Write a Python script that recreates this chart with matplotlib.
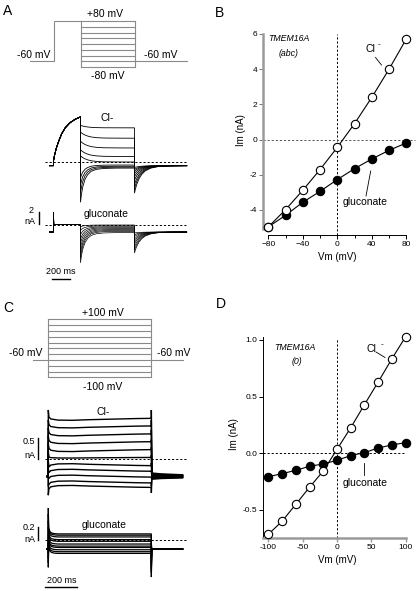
import matplotlib
matplotlib.use("Agg")
import matplotlib.pyplot as plt
import numpy as np

plt.rcParams['font.family'] = ['Liberation Sans', 'DejaVu Sans']

W, H = 416, 591
fig = plt.figure(figsize=(W / 100, H / 100), dpi=100)

# ------------------------------------------------------------------ data
# Panel B: I-V, TMEM16A (abc)
B_vm = [-80, -60, -40, -20, 0, 20, 40, 60, 80]
B_cl = [-4.96, -3.98, -2.88, -1.70, -0.44, 0.91, 2.40, 4.00, 5.72]
B_gluc = [-4.96, -4.30, -3.56, -2.94, -2.27, -1.65, -1.10, -0.61, -0.19]
B_xticks = [-80, -40, 0, 40, 80]
B_xminor = [-60, -20, 20, 60]
B_yticks = [-4, -2, 0, 2, 4, 6]

# Panel D: I-V, TMEM16A (0)
D_vm = [-100, -80, -60, -40, -20, 0, 20, 40, 60, 80, 100]
D_cl = [-0.715, -0.60, -0.45, -0.30, -0.156, 0.035, 0.226, 0.43, 0.63, 0.835, 1.03]
D_gluc = [-0.206, -0.18, -0.15, -0.115, -0.094, -0.062, -0.02, 0.006, 0.047, 0.074, 0.094]
D_xticks = [-100, -50, 0, 50, 100]
D_yticks = [-0.5, 0.0, 0.5, 1.0]
D_yticklabels = ['-0.5', '0.0', '0.5', '1.0']

# Panel A: protocol and sweeps (ms, mV, nA)
A_steps = [80, 60, 40, 20, 0, -20, -40, -60, -80]
A_hold = -60
A_pre = 80
A_pre_end, A_step_end, A_sweep_end = 300, 900, 1480
A_cl_hold = -0.6
A_cl_pre_t = [0, 10, 30, 55, 90, 130, 180, 240, 300]
A_cl_pre_i = [0.2, 1.0, 2.2, 3.3, 4.6, 5.6, 6.4, 7.0, 7.4]
A_cl_peak = [6.0, 4.9, 3.4, 2.0, 1.0, -2.6, -3.8, -5.1, -6.6]
A_cl_end = [5.6, 3.9, 2.3, 0.9, 0.0, -0.5, -0.7, -0.85, -1.0]
A_cl_tail = [-5.1, -4.4, -3.7, -3.0, -2.4, -1.9, -1.5, -1.2, -0.9]
A_gl_hold = -1.15
A_gl_pre = 0.1
A_gl_spike = 2.1
A_gl_peak = [-0.3, -0.9, -1.6, -2.3, -3.0, -3.8, -4.6, -5.4, -6.2]
A_gl_end = [0.0, -0.15, -0.3, -0.45, -0.6, -0.75, -0.9, -1.05, -1.25]
A_gl_tail = [-4.6, -4.1, -3.6, -3.1, -2.7, -2.3, -1.9, -1.6, -1.3]
# normalised relaxation time courses
relax_t = [0, 10, 25, 50, 80, 120, 180, 260, 400, 560]
relax_fast = [1.0, 0.78, 0.55, 0.33, 0.19, 0.09, 0.035, 0.01, 0.0, 0.0]
relax_slow = [1.0, 0.88, 0.72, 0.52, 0.35, 0.20, 0.09, 0.03, 0.01, 0.0]
relax_tail = [1.0, 0.85, 0.68, 0.48, 0.32, 0.19, 0.09, 0.035, 0.008, 0.0]

# Panel C: protocol and sweeps
C_steps = [100, 80, 60, 40, 20, 0, -20, -40, -60, -80, -100]
C_hold_drawn = -40
C_step_end, C_sweep_end = 640, 834
C_cl_hold = -0.45
C_cl_on = [1.26, 1.0, 0.8, 0.6, 0.4, 0.2, -0.05, -0.25, -0.45, -0.7, -0.93]
C_cl_off = [1.26, 1.0, 0.75, 0.5, 0.3, 0.1, -0.1, -0.3, -0.5, -0.7, -0.87]
C_cl_tail0 = [-0.36, -0.38, -0.39, -0.41, -0.42, -0.44, -0.46, -0.47, -0.49, -0.50, -0.52]
C_drift_t = [4, 15, 60, 150, 250, 350, 450, 550, 640]
C_drift = [0.05, 0.0, -0.03, -0.035, -0.02, -0.01, 0.0, 0.01, 0.015]
C_gl_hold = -0.14
C_gl_on = [0.49, 0.4, 0.3, 0.2, 0.1, 0.0, -0.1, -0.2, -0.28, -0.35, -0.42]
C_gl_off = [-0.05, -0.1, -0.15, -0.2, -0.25, -0.3, -0.35, -0.4, -0.45, -0.5, -0.57]
C_gl_bump_t = [2, 6, 12, 20, 35, 60]
C_gl_bump = [0.10, 0.06, 0.03, 0.015, 0.005, 0.0]

GRAY = '#8a8a8a'


# ------------------------------------------------------------------ helpers
def px_axes(x0, x1, y0, y1, xref, xppu, yref, yppu, xd=0.0, yd=0.0, off=True):
    ax = fig.add_axes([x0 / W, 1 - y1 / H, (x1 - x0) / W, (y1 - y0) / H])
    ax.set_xlim(xd + (x0 - xref) / xppu, xd + (x1 - xref) / xppu)
    ax.set_ylim(yd + (yref - y1) / yppu, yd + (yref - y0) / yppu)
    ax.patch.set_alpha(0)
    if off:
        ax.axis('off')
    return ax


def ftext(x, y, s, size=7.5, ha='center', va='center', **kw):
    fig.text(x / W, 1 - y / H, s, fontsize=size, ha=ha, va=va, **kw)


def L(ax, x, y, **kw):
    kw.setdefault('color', 'k')
    kw.setdefault('lw', 0.6)
    ax.plot(x, y, clip_on=False, solid_joinstyle='miter', **kw)


# ------------------------------------------------------------------ panel A
axAp = px_axes(0, 200, 0, 95, 53.5, 0.09, 44, 0.2875)
L(axAp, [-260, 0, 0, A_pre_end], [A_hold, A_hold, A_pre, A_pre], color=GRAY, lw=0.8)
for v in A_steps:
    L(axAp, [A_pre_end, A_step_end], [v, v], color=GRAY, lw=0.8)
L(axAp, [A_pre_end, A_pre_end], [max(A_steps), min(A_steps)], color=GRAY, lw=0.8)
L(axAp, [A_step_end, A_step_end], [max(A_steps), min(A_steps)], color=GRAY, lw=0.8)
L(axAp, [A_step_end, A_sweep_end], [A_hold, A_hold], color=GRAY, lw=0.8)

axAc = px_axes(0, 200, 95, 205, 53.5, 0.09, 162, 6.1)
for k, v in enumerate(A_steps):
    shape = relax_slow if A_cl_peak[k] > 0 else relax_fast
    t = [-45, 0] + A_cl_pre_t
    i = [A_cl_hold, A_cl_hold] + A_cl_pre_i
    t += [A_pre_end + rt for rt in relax_t] + [A_step_end]
    i += [A_cl_end[k] + (A_cl_peak[k] - A_cl_end[k]) * s for s in shape] + [A_cl_end[k]]
    t += [A_step_end + rt for rt in relax_t] + [A_sweep_end]
    i += [A_cl_hold + (A_cl_tail[k] - A_cl_hold) * s for s in relax_tail] + [A_cl_hold]
    L(axAc, t, i, lw=0.6)
L(axAc, [-95, A_sweep_end], [0, 0], lw=0.7, ls=(0, (2.2, 2.0)))

axAg = px_axes(0, 200, 200, 290, 53.5, 0.09, 225, 6.1)
for k, v in enumerate(A_steps):
    t = [-45, 0, 0, 3, A_pre_end]
    i = [A_gl_hold, A_gl_hold, A_gl_spike, A_gl_pre, A_gl_pre]
    t += [A_pre_end + rt for rt in relax_t] + [A_step_end]
    i += [A_gl_end[k] + (A_gl_peak[k] - A_gl_end[k]) * s for s in relax_fast] + [A_gl_end[k]]
    t += [A_step_end + rt for rt in relax_t] + [A_sweep_end]
    i += [A_gl_hold + (A_gl_tail[k] - A_gl_hold) * s for s in relax_tail] + [A_gl_hold]
    L(axAg, t, i, lw=0.5)
L(axAg, [-95, A_sweep_end], [0, 0], lw=0.7, ls=(0, (2.2, 2.0)))
# scale bars (2 nA, 200 ms)
L(axAg, [-161, -161], [0.1, 2.1], lw=1.0)
L(axAg, [-17, 183], [-8.85, -8.85], lw=1.0)

ftext(8, 11, 'A', size=10)
ftext(105, 14, '+80 mV')
ftext(34, 54.5, '-60 mV')
ftext(161, 54.5, '-60 mV')
ftext(107.5, 76, '-80 mV')
ftext(107, 118, 'Cl-')
ftext(34, 211, '2', size=6.5, ha='right')
ftext(35, 221, 'nA', size=6.5, ha='right')
ftext(106, 214, 'gluconate')
ftext(61, 271, '200 ms', size=6.5)

# ------------------------------------------------------------------ panel C
axCp = px_axes(0, 200, 295, 395, 48.3, 0.161, 348.3, 0.29)
L(axCp, [-95, 0], [C_hold_drawn, C_hold_drawn], color=GRAY, lw=0.8)
for v in C_steps:
    L(axCp, [0, C_step_end], [v, v], color=GRAY, lw=0.8)
L(axCp, [0, 0], [max(C_steps), min(C_steps)], color=GRAY, lw=0.8)
L(axCp, [C_step_end, C_step_end], [max(C_steps), min(C_steps)], color=GRAY, lw=0.8)
L(axCp, [C_step_end, C_sweep_end], [C_hold_drawn, C_hold_drawn], color=GRAY, lw=0.8)

C_cl_level = D_cl[::-1]
axCc = px_axes(0, 200, 395, 500, 48.3, 0.161, 459, 38.9)
for k, v in enumerate(C_steps):
    lvl = C_cl_level[k]
    sc = lvl / abs(lvl) if abs(lvl) > 0.1 else 0.3
    t = [-8, 0, 0] + C_drift_t + [C_step_end, C_step_end + 3, 700, C_sweep_end]
    tail_end = C_cl_hold + (C_cl_tail0[k] - C_cl_hold) * 0.5
    tail_mid = C_cl_hold + (C_cl_tail0[k] - C_cl_hold) * 0.75
    i = [C_cl_hold, C_cl_hold, C_cl_on[k]] + [lvl + d * sc for d in C_drift] + \
        [C_cl_off[k], C_cl_tail0[k], tail_mid, tail_end]
    L(axCc, t, i, lw=1.0)
L(axCc, [-20, C_sweep_end + 30], [0, 0], lw=0.7, ls=(0, (2.2, 2.0)))
L(axCc, [-66, -66], [0.0, 0.55], lw=1.0)

C_gl_level = D_gluc[::-1]
axCg = px_axes(0, 200, 500, 591, 48.3, 0.161, 540, 65)
for k, v in enumerate(C_steps):
    lvl = C_gl_level[k]
    t = [-8, 0, 0] + C_gl_bump_t + [C_step_end, C_step_end, C_step_end + 3, C_sweep_end]
    i = [C_gl_hold, C_gl_hold, C_gl_on[k]] + [lvl + b for b in C_gl_bump] + \
        [lvl, C_gl_off[k], C_gl_hold, C_gl_hold]
    L(axCg, t, i, lw=0.9)
L(axCg, [-20, C_sweep_end + 30], [0, 0], lw=0.7, ls=(0, (2.2, 2.0)))
L(axCg, [-66, -66], [0.0, 0.2], lw=1.0)
L(axCg, [-20, 180], [(540 - 586.7) / 65] * 2, lw=1.0)

ftext(8, 308, 'C', size=10)
ftext(102.5, 312.5, '+100 mV')
ftext(26, 353.5, '-60 mV')
ftext(174, 353.5, '-60 mV')
ftext(102.5, 387.5, '-100 mV')
ftext(103, 412, 'Cl-')
ftext(35, 441, '0.5', size=6.5, ha='right')
ftext(35, 455.5, 'nA', size=6.5, ha='right')
ftext(35, 527.5, '0.2', size=6.5, ha='right')
ftext(35, 539.5, 'nA', size=6.5, ha='right')
ftext(104, 525, 'gluconate')
ftext(62, 580.5, '200 ms', size=6.5)


# ------------------------------------------------------------------ I-V panels
def iv_style(ax):
    for s in ('top', 'right'):
        ax.spines[s].set_visible(False)
    ax.tick_params(which='both', direction='out', labelsize=6, pad=1.5)
    ax.tick_params(which='major', length=3, width=0.7)
    ax.tick_params(which='minor', length=2, width=0.7)


def iv_points(ax, x, y, face):
    ax.plot(x, y, '-', color='k', lw=0.8, zorder=3, clip_on=False)
    ax.plot(x, y, 'o', ms=6, mfc=face, mec='k', mew=0.8, zorder=4, clip_on=False)


# B
axB = px_axes(263.3, 412, 25, 235, 268.3, 0.8625, 139.6, 17.6, xd=-80, off=False)
iv_style(axB)
axB.spines['left'].set_color('#9a9a9a')
axB.spines['left'].set_linewidth(1.8)
axB.spines['left'].set_bounds(-5.1, 6.0)
axB.spines['bottom'].set_linewidth(0.7)
axB.spines['bottom'].set_bounds(-80, 80)
axB.set_xticks(B_xticks)
axB.set_xticks(B_xminor, minor=True)
axB.set_yticks(B_yticks)
axB.set_yticklabels([str(v) for v in B_yticks])
axB.tick_params(axis='y', colors='#777777', labelcolor='k')
L(axB, [0, 0], [axB.get_ylim()[0], 6.0], lw=0.7, ls=(0, (2.2, 2.0)))
L(axB, [axB.get_xlim()[0], 90], [0, 0], lw=0.7, ls=(0, (2.2, 2.0)), color='#555555')
iv_points(axB, B_vm, B_gluc, 'k')
iv_points(axB, B_vm, B_cl, 'white')
axB.set_xlabel('Vm (mV)', fontsize=7, labelpad=2.5)
axB.set_ylabel('Im (nA)', fontsize=7, labelpad=2.5)
ftext(220, 13, 'B', size=10)
ftext(288.5, 38.5, 'TMEM16A', size=6.3, style='italic')
ftext(288.5, 53, '(abc)', size=6.3, style='italic')
ftext(370, 49, 'Cl', size=7.5)
ftext(379, 44.5, '-', size=6)
fig.add_artist(plt.Line2D([375.5 / W, 381.5 / W], [1 - 57.5 / H, 1 - 65 / H], color='k', lw=0.6))
ftext(365, 202, 'gluconate', size=7.5)
fig.add_artist(plt.Line2D([370.7 / W, 366 / W], [1 - 171 / H, 1 - 196 / H], color='k', lw=0.6))

# D
axD = px_axes(263.3, 412, 330, 538, 337, 0.687, 453.3, 113.3, off=False)
iv_style(axD)
axD.spines['left'].set_linewidth(0.7)
axD.spines['left'].set_bounds(axD.get_ylim()[0], 1.03)
axD.spines['bottom'].set_color('#9a9a9a')
axD.spines['bottom'].set_linewidth(1.8)
axD.spines['bottom'].set_bounds(axD.get_xlim()[0], 100)
axD.set_xticks(D_xticks)
axD.set_xticklabels([str(v) for v in D_xticks])
axD.set_yticks(D_yticks)
axD.set_yticklabels(D_yticklabels)
axD.tick_params(axis='x', colors='#9a9a9a', labelcolor='k', width=1.0)
L(axD, [0, 0], [axD.get_ylim()[0], 1.02], lw=0.7, ls=(0, (2.2, 2.0)))
L(axD, [axD.get_xlim()[0], 100], [0, 0], lw=0.7, ls=(0, (2.2, 2.0)))
iv_points(axD, D_vm, D_gluc, 'k')
iv_points(axD, D_vm, D_cl, 'white')
axD.set_xlabel('Vm (mV)', fontsize=7, labelpad=2.5)
axD.set_ylabel('Im (nA)', fontsize=7, labelpad=2.5)
ftext(221, 304, 'D', size=10)
ftext(294.5, 347, 'TMEM16A', size=6.3, style='italic')
ftext(296.5, 361, '(0)', size=6.3, style='italic')
ftext(371, 349, 'Cl', size=7.5)
ftext(382, 345, '-', size=6)
fig.add_artist(plt.Line2D([376 / W, 385 / W], [1 - 352 / H, 1 - 357.5 / H], color='k', lw=0.6))
ftext(365, 483, 'gluconate', size=7.5)
fig.add_artist(plt.Line2D([364.3 / W, 364.3 / W], [1 - 463 / H, 1 - 475 / H], color='k', lw=0.6))

fig.savefig('out.png', dpi=100)
